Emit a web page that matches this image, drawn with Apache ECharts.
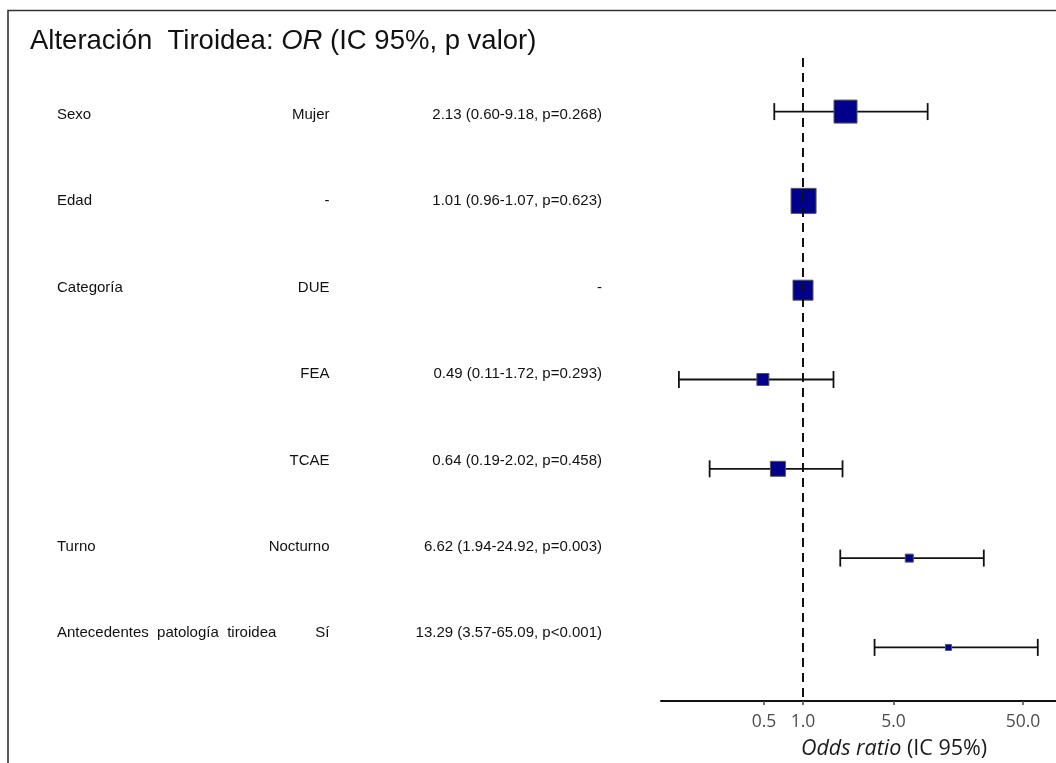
<!DOCTYPE html>
<html>
<head>
<meta charset="utf-8">
<script src="https://cdn.jsdelivr.net/npm/echarts@6/dist/echarts.min.js"></script>
<style>
html,body{margin:0;padding:0;background:#fff;}
#chart{width:1056px;height:763px;}
</style>
</head>
<body>
<div id="chart"></div>
<script>
// ---- data ----
const variables = ['Sexo', 'Edad', 'Categoría', '', '', 'Turno', 'Antecedentes  patología  tiroidea'];
const levels = ['Mujer', '-', 'DUE', 'FEA', 'TCAE', 'Nocturno', 'Sí'];
const oddsRatios = [2.13, 1.01, 1.00, 0.49, 0.64, 6.62, 13.29];
const ciLower = [0.60, 0.96, null, 0.11, 0.19, 1.94, 3.57];
const ciUpper = [9.18, 1.07, null, 1.72, 2.02, 24.92, 65.09];
const pValues = ['=0.268', '=0.623', null, '=0.293', '=0.458', '=0.003', '<0.001'];
const weights = [0.92, 1.00, 0.80, 0.48, 0.60, 0.32, 0.24];
const tickValues = [0.5, 1, 5, 50];

// ---- derived ----
const orText = oddsRatios.map((v, i) => ciLower[i] == null ? '-' :
  v.toFixed(2) + ' (' + ciLower[i].toFixed(2) + '-' + ciUpper[i].toFixed(2) + ', p' + pValues[i] + ')');

const cells = [];
variables.forEach((v, i) => {
  cells.push({pos: [0, i], text: v, align: 'left'});
  cells.push({pos: [0.5, i], text: levels[i], align: 'right'});
  cells.push({pos: [1, i], text: orText[i], align: 'right'});
});

const whiskerData = [];
oddsRatios.forEach((v, i) => {
  if (ciLower[i] != null) whiskerData.push([ciLower[i], ciUpper[i], i + 1]);
});
const pointData = oddsRatios.map((v, i) => [v, i + 1]);

const chart = echarts.init(document.getElementById('chart'), null, {renderer: 'canvas'});
const option = {
  animation: false,
  backgroundColor: '#fff',
  title: {
    text: 'Alteración  Tiroidea: {i|OR} (IC 95%, p valor)',
    left: 30, top: 27.5, padding: 0,
    textStyle: {
      fontFamily: 'Liberation Sans', fontSize: 27.5, fontWeight: 'normal', color: '#111',
      rich: {i: {fontFamily: 'Liberation Sans', fontSize: 27.5, fontStyle: 'italic', color: '#111'}}
    }
  },
  graphic: [
    {type: 'polyline', shape: {points: [[8, 763], [8, 10.5], [1056, 10.5]]},
     style: {stroke: '#333', lineWidth: 1.6, fill: null}, silent: true},
    {type: 'text', x: 894, y: 749,
     style: {text: '{i|Odds ratio} (IC 95%)', textAlign: 'center', textVerticalAlign: 'middle',
       fontFamily: 'Open Sans', fontSize: 21.5, fill: '#1a1a1a',
       rich: {i: {fontFamily: 'Open Sans', fontSize: 21.5, fontStyle: 'italic', fill: '#1a1a1a'}}}}
  ],
  grid: [
    {left: 661, right: 0, top: 58, bottom: 62},
    {left: 57, right: 454, top: 71.5, bottom: 86.5}
  ],
  xAxis: [
    {
      type: 'log', logBase: 10, gridIndex: 0, min: 0.08, max: 90,
      axisLine: {show: true, lineStyle: {color: '#111', width: 2}},
      axisTick: {show: true, customValues: tickValues, length: 4, lineStyle: {color: '#444', width: 1.5}},
      axisLabel: {show: true, customValues: tickValues, formatter: v => Number(v).toFixed(1),
        color: '#4d4d4d', fontFamily: 'Open Sans', fontSize: 17.5, margin: 12},
      splitLine: {show: false}
    },
    {type: 'value', gridIndex: 1, min: 0, max: 1, show: false}
  ],
  yAxis: [
    {type: 'value', gridIndex: 0, inverse: true, min: 0.4, max: 7.6, show: false},
    {type: 'category', gridIndex: 1, inverse: true, data: variables.map((v, i) => String(i)), show: false}
  ],
  series: [
    {
      type: 'custom', xAxisIndex: 0, yAxisIndex: 0, z: 2,
      encode: {x: [0, 1], y: 2},
      data: whiskerData,
      renderItem: function (params, api) {
        const p1 = api.coord([api.value(0), api.value(2)]);
        const p2 = api.coord([api.value(1), api.value(2)]);
        const c = 8.5;
        const st = {stroke: '#111', lineWidth: 1.8};
        return {type: 'group', children: [
          {type: 'line', shape: {x1: p1[0], y1: p1[1], x2: p2[0], y2: p2[1]}, style: st},
          {type: 'line', shape: {x1: p1[0], y1: p1[1] - c, x2: p1[0], y2: p1[1] + c}, style: st},
          {type: 'line', shape: {x1: p2[0], y1: p2[1] - c, x2: p2[0], y2: p2[1] + c}, style: st}
        ]};
      },
      markLine: {
        silent: true, symbol: 'none', label: {show: false},
        lineStyle: {color: '#111', width: 2, type: [9, 6]},
        data: [{xAxis: 1}]
      }
    },
    {
      type: 'scatter', xAxisIndex: 0, yAxisIndex: 0, z: 3,
      symbol: 'rect',
      symbolSize: (val, params) => weights[params.dataIndex] * 25,
      itemStyle: {color: '#00008B', borderColor: '#555', borderWidth: 1, opacity: 1},
      data: pointData
    },
    {
      type: 'custom', xAxisIndex: 1, yAxisIndex: 1,
      data: cells.map(c => c.pos),
      renderItem: function (params, api) {
        const cell = cells[params.dataIndex];
        const p = api.coord([api.value(0), api.value(1)]);
        return {type: 'text', x: p[0], y: p[1],
          style: {text: cell.text, textAlign: cell.align, textVerticalAlign: 'middle',
            fontFamily: 'Liberation Sans', fontSize: 15, fill: '#111'}};
      }
    }
  ]
};
chart.setOption(option);
</script>
</body>
</html>
